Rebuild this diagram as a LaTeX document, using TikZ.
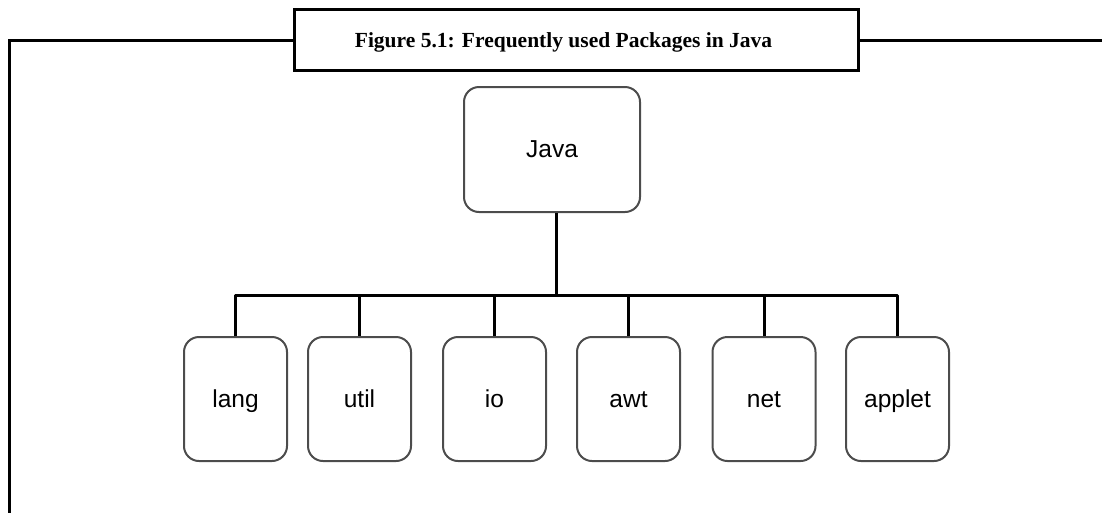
\documentclass[tikz,border=0pt]{standalone}
\usepackage{fontspec}
\setmainfont{Liberation Serif}
\newfontfamily\labelfont{Liberation Sans}
\begin{document}
\begin{tikzpicture}[x=1pt,y=-1pt]
\tikzset{
  pkg/.style={draw=black!70, line width=2pt, rounded corners=15pt, minimum width=103pt, minimum height=124pt, inner sep=0pt, text height=19pt, text depth=3pt, font=\labelfont\fontsize{24.5}{29}\selectfont, text=black},
  rootbox/.style={pkg, minimum width=176pt, minimum height=125pt},
  titlebox/.style={draw=black, line width=3pt, minimum width=564pt, minimum height=61pt, inner sep=0pt, text height=15pt, text depth=1pt, font=\bfseries\fontsize{21.5}{25}\selectfont},
  conn/.style={line width=3pt, black, line join=round},
  frameline/.style={line width=3pt, black}
}
\useasboundingbox (0,0) rectangle (1102,512);
\node[titlebox] (title) at (576.5,40) {Figure 5.1: Frequently used Packages in Java\hspace*{26pt}};
\coordinate (tl) at (9,41);
\coordinate (bl) at (9,520);
\coordinate (tr) at (1110,41);
\draw[frameline] (title.west) -- (title.west -| tl) -- (bl);
\draw[frameline] (title.east) -- (title.east -| tr);

\node[rootbox] (java) at (552,149.5) {Java};
\node[pkg] (lang) at (235.5,399) {lang};
\node[pkg] (util) at (359.5,399) {util};
\node[pkg] (io) at (494.5,399) {io};
\node[pkg] (awt) at (628.5,399) {awt};
\node[pkg] (net) at (764,399) {net};
\node[pkg] (applet) at (897.5,399) {applet};

\coordinate (bus) at (557,295);
\draw[conn] ([xshift=4.5pt]java.south) -- ([xshift=4.5pt]java.south |- bus);
\draw[conn] (lang.north) -- (lang.north |- bus) -- (applet.north |- bus) -- (applet.north);
\foreach \n in {util,io,awt,net}
  \draw[conn] (\n.north |- bus) -- (\n.north);
\end{tikzpicture}
\end{document}
